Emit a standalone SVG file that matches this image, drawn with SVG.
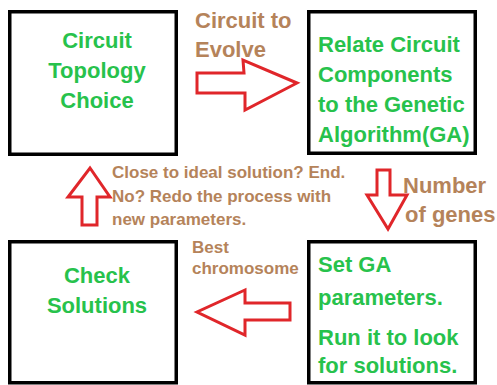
<svg xmlns="http://www.w3.org/2000/svg" width="497" height="385" viewBox="0 0 497 385">
<style>
.box{fill:#fff;stroke:#000;stroke-width:3.5}
.g{fill:#27c24c;font-family:"Liberation Sans",Arial,sans-serif;font-weight:bold;font-size:22px}
.b{fill:#b5835a;font-family:"Liberation Sans",Arial,sans-serif;font-weight:bold}
.arr{fill:#fff;stroke:#e0262a;stroke-width:3;stroke-linejoin:miter}
</style>
<rect width="497" height="385" fill="#fff"/>
<g id="n1">
<rect class="box" x="9.75" y="11.75" width="166.5" height="142.5"/>
<text class="g" text-anchor="middle"><tspan x="97" y="48">Circuit</tspan><tspan x="97" y="78">Topology</tspan><tspan x="97" y="108">Choice</tspan></text>
</g>
<g id="n2">
<rect class="box" x="308.75" y="11.75" width="166.5" height="141.5"/>
<text class="g"><tspan x="318" y="52">Relate Circuit</tspan><tspan x="318" y="82">Components</tspan><tspan x="318" y="112">to the Genetic</tspan><tspan x="318" y="142">Algorithm(GA)</tspan></text>
</g>
<g id="n3">
<rect class="box" x="9.75" y="241.75" width="166.5" height="141"/>
<text class="g" text-anchor="middle"><tspan x="97" y="283">Check</tspan><tspan x="97" y="313">Solutions</tspan></text>
</g>
<g id="n4">
<rect class="box" x="308.75" y="241.75" width="166.5" height="141"/>
<text class="g"><tspan x="318" y="272">Set GA</tspan><tspan x="318" y="305">parameters.</tspan><tspan x="318" y="345">Run it to look</tspan><tspan x="318" y="373">for solutions.</tspan></text>
</g>
<g id="connectors">
<polygon class="arr" points="197,73 244,73 243,60 297,83 245,110 245,93 197,93"/>
<polygon class="arr" points="377,170 390,170 390,195 407,195 388,229 367,195 377,195"/>
<polygon class="arr" points="290,303 290,320 245,320 245,335 197,312 245,290 245,303"/>
<polygon class="arr" points="82,225 97,225 97,197 110,197 90,168 68,197 82,197"/>
<text class="b" font-size="22"><tspan x="195" y="28">Circuit to</tspan><tspan x="195" y="57">Evolve</tspan></text>
<text class="b" font-size="22"><tspan x="403" y="193">Number</tspan><tspan x="405" y="222">of genes</tspan></text>
<text class="b" font-size="17"><tspan x="112" y="178">Close to ideal solution? End.</tspan><tspan x="112" y="202">No? Redo the process with</tspan><tspan x="112" y="225">new parameters.</tspan></text>
<text class="b" font-size="17"><tspan x="192" y="253">Best</tspan><tspan x="192" y="274">chromosome</tspan></text>
</g>
</svg>
